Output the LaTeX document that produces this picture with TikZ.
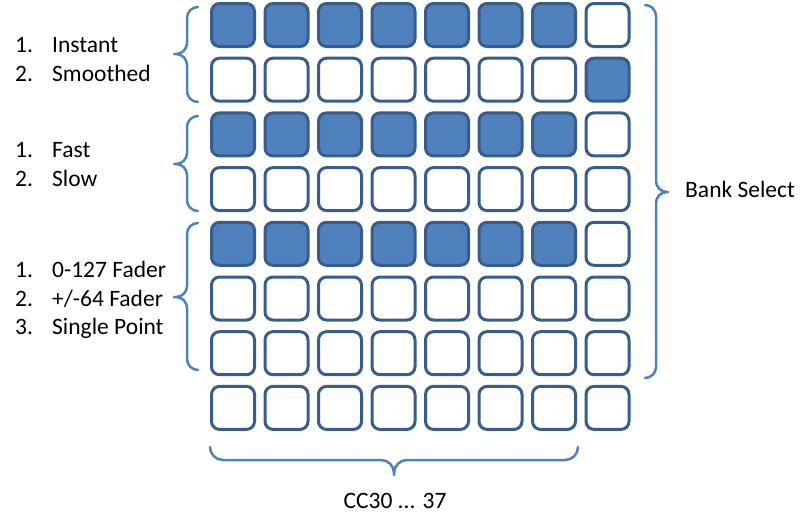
\documentclass[tikz,border=0pt]{standalone}
\usepackage{fontspec}
\setmainfont{Carlito}
\definecolor{cellfill}{HTML}{4F81BD}
\definecolor{celledge}{HTML}{385D8A}
\begin{document}
\begin{tikzpicture}[x=1pt,y=-1pt,
	cell/.style={draw=celledge,line width=3pt,rounded corners=8pt,minimum size=43pt,inner sep=0pt},
	bracket/.style={draw=cellfill,line width=2.5pt,rounded corners=11pt,line cap=round},
	lbl/.style={anchor=base west,inner sep=0pt,font=\fontsize{23.5}{28}\selectfont}]
	\useasboundingbox (0,0) rectangle (810,522);

	% 8x8 grid of pads
	\foreach \r in {0,...,7}
	  \foreach \c in {0,...,7} {
	    \pgfmathtruncatemacro\lit{((\c<7)&&((\r==0)||(\r==2)||(\r==4)))||((\r==1)&&(\c==7))}
	    \ifnum\lit=1 \def\shade{cellfill}\else\def\shade{white}\fi
	    \node[cell,fill=\shade] (p\r\c) at ({233+53.5*\c},{25+54.7*\r}) {};
	  }

	% braces
	\draw[bracket] (198,7) -- (187,7) -- (187,54) -- (174,54) (174,54) -- (187,54) -- (187,102) -- (198,102);
	\draw[bracket] (198,116) -- (187,116) -- (187,164) -- (174,164) (174,164) -- (187,164) -- (187,211) -- (198,211);
	\draw[bracket] (198,223) -- (187,223) -- (187,297) -- (174,297) (174,297) -- (187,297) -- (187,370) -- (198,370);
	\draw[bracket] (645,5) -- (656,5) -- (656,192) -- (668,192) (668,192) -- (656,192) -- (656,378) -- (645,378);
	\draw[bracket,rounded corners=13pt] (210,447) -- (210,460) -- (394,460) -- (394,475) (394,475) -- (394,460) -- (578,460) -- (578,447);

	% labels
	\foreach \y/\n/\t in {52/1./Instant, 81/2./Smoothed, 157/1./Fast, 186/2./Slow,
	                      277/1./0-127 Fader, 306/2./{+/-64 Fader}, 334/3./Single Point} {
	  \node[lbl] (n\y) at (15,\y) {\n};
	  \node[lbl] (t\y) at (52,\y) {\t};
	}
	\node[lbl] (bank) at (685,197) {Bank Select};
	\node[lbl,anchor=base] (cc) at (395,508) {CC30 ... 37};

\end{tikzpicture}
\end{document}
